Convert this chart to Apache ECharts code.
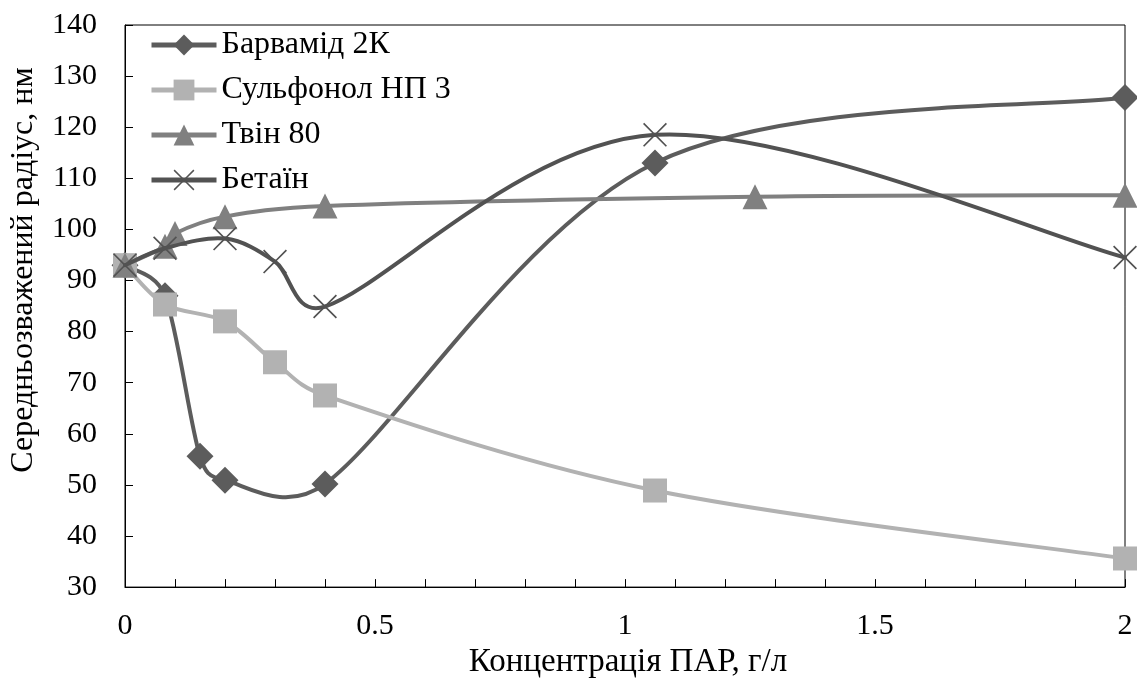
<!DOCTYPE html>
<html><head><meta charset="utf-8">
<script src="https://cdn.jsdelivr.net/npm/echarts@6/dist/echarts.min.js"></script>
<style>html,body{margin:0;padding:0;background:#fff}#c{width:1137px;height:684px}</style>
</head><body><div id="c"></div>
<script>
const seriesNames = ['Барвамід 2К', 'Сульфонол НП 3', 'Твін 80', 'Бетаїн'];
const barvamidX = [0, 0.08, 0.15, 0.2, 0.4, 1.06, 2];
const barvamidY = [93, 87, 55.6, 50.9, 50.2, 113, 125.8];
const sulfonolX = [0, 0.08, 0.2, 0.3, 0.4, 1.06, 2];
const sulfonolY = [93, 85.3, 82, 74, 67.5, 48.9, 35.6];
const tweenX = [0, 0.08, 0.1, 0.2, 0.4, 1.26, 2];
const tweenY = [93, 96.7, 99.2, 102.5, 104.6, 106.4, 106.7];
const betainX = [0, 0.08, 0.2, 0.3, 0.4, 1.06, 2];
const betainY = [93, 96.3, 98.2, 93.7, 84.9, 118.5, 94.5];
const xTicks = [0, 0.5, 1, 1.5, 2];
const yTicks = [30, 40, 50, 60, 70, 80, 90, 100, 110, 120, 130, 140];

const font = 'Liberation Serif';
const xSym = 'path://M0,1 L1,0 L10,9 L19,0 L20,1 L11,10 L20,19 L19,20 L10,11 L1,20 L0,19 L9,10 Z';
const colors = ['#5c5c5c', '#b2b2b2', '#808080', '#525252'];
const symbols = ['diamond', 'rect', 'triangle', xSym];
const sizes = [27, 24, 25, 24];
const xsAll = [barvamidX, sulfonolX, tweenX, betainX];
const ysAll = [barvamidY, sulfonolY, tweenY, betainY];

// Smooth curve (Excel-like Catmull-Rom Bezier) drawn through the library's coordinate system
function curveSeries(xs, ys, color, z) {
  const n = xs.length;
  return {
    type: 'custom', silent: true, z: z, clip: false,
    data: xs.map((x, i) => [x, ys[i]]),
    encode: {x: 0, y: 1},
    renderItem: function (params, api) {
      const i = params.dataIndex;
      if (i >= n - 1) return null;
      const P = k => { const j = Math.max(0, Math.min(n - 1, k)); return api.coord([xs[j], ys[j]]); };
      const p0 = P(i - 1), p1 = P(i), p2 = P(i + 1), p3 = P(i + 2);
      const d12 = Math.hypot(p2[0] - p1[0], p2[1] - p1[1]);
      const cap = (v) => { const l = Math.hypot(v[0], v[1]); const m = d12 / 2; return l > m && l > 0 ? [v[0] * m / l, v[1] * m / l] : v; };
      const t1 = cap([(p2[0] - p0[0]) / 6, (p2[1] - p0[1]) / 6]);
      const t2 = cap([(p3[0] - p1[0]) / 6, (p3[1] - p1[1]) / 6]);
      return {
        type: 'bezierCurve',
        shape: {x1: p1[0], y1: p1[1], x2: p2[0], y2: p2[1],
          cpx1: p1[0] + t1[0], cpy1: p1[1] + t1[1], cpx2: p2[0] - t2[0], cpy2: p2[1] - t2[1]},
        style: {stroke: color, lineWidth: 4, fill: 'none', lineCap: 'round'}
      };
    }
  };
}

const series = [];
seriesNames.forEach((name, i) => {
  series.push(curveSeries(xsAll[i], ysAll[i], colors[i], 2 + 2 * i));
  series.push({
    name: name, type: 'line', z: 3 + 2 * i,
    data: xsAll[i].map((x, k) => [x, ysAll[i][k]]),
    symbol: symbols[i], symbolSize: sizes[i], showAllSymbol: true,
    lineStyle: {color: colors[i], width: 4, opacity: 0},
    itemStyle: {color: colors[i]}
  });
});

const chart = echarts.init(document.getElementById('c'));
chart.setOption({
  animation: false,
  backgroundColor: '#fff',
  grid: {left: 124, right: 12, top: 25, bottom: 95, show: true, borderColor: '#000', borderWidth: 1},
  legend: {
    left: 149, top: 29, padding: 0, orient: 'vertical', itemWidth: 65, itemHeight: 26, itemGap: 13,
    data: seriesNames,
    lineStyle: {opacity: 1, width: 5},
    textStyle: {fontFamily: font, fontSize: 32, color: '#000'}
  },
  xAxis: {
    type: 'value', min: 0, max: 2, interval: 0.5,
    name: 'Концентрація ПАР, г/л', nameLocation: 'middle', nameGap: 57,
    nameTextStyle: {fontFamily: font, fontSize: 33, color: '#000', padding: [0, 0, 0, 6]},
    axisLine: {lineStyle: {color: '#000', width: 1}},
    axisTick: {inside: true, length: 8, lineStyle: {color: '#000'}},
    minorTick: {show: true, splitNumber: 5, length: 8, lineStyle: {color: '#000'}},
    splitLine: {show: false},
    axisLabel: {fontFamily: font, fontSize: 30, color: '#000', margin: 24,
      formatter: v => xTicks.includes(v) ? String(v) : ''}
  },
  yAxis: {
    type: 'value', min: 30, max: 140, interval: 10,
    name: 'Середньозважений радіус, нм', nameLocation: 'middle', nameGap: 85,
    nameTextStyle: {fontFamily: font, fontSize: 32, color: '#000', padding: [0, 0, 0, 72]},
    axisLine: {show: true, lineStyle: {color: '#000', width: 1}},
    axisTick: {inside: true, length: 8, lineStyle: {color: '#000'}},
    splitLine: {show: false},
    axisLabel: {fontFamily: font, fontSize: 30, color: '#000', margin: 28,
      formatter: v => yTicks.includes(v) ? String(v) : ''}
  },
  series: series
});
</script></body></html>
